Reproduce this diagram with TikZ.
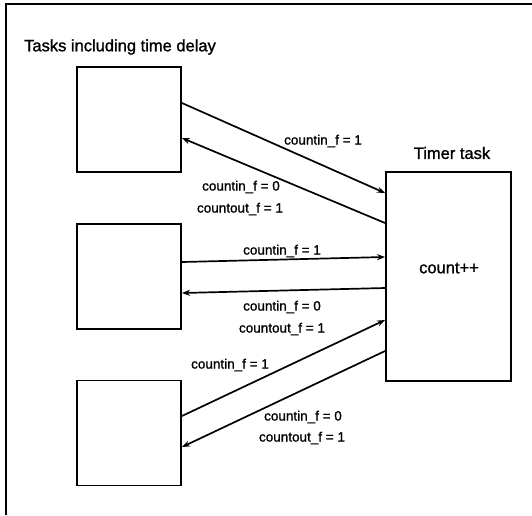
\documentclass[tikz,border=0pt]{standalone}
\usepackage{fontspec}
\setmainfont[FakeBold=1.2,AutoFakeBold=1.2]{Liberation Sans}
\usetikzlibrary{arrows.meta}
\begin{document}
\begin{tikzpicture}[x=1pt,y=-1pt,
  taskbox/.style={draw,line width=1.9pt,minimum width=104pt,minimum height=105pt,inner sep=0pt},
  flow/.style={line width=1.7pt,-{Stealth[length=8pt,width=6pt]}},
  lbl/.style={font=\fontsize{13.5}{15}\selectfont\bfseries,inner sep=0pt},
  head/.style={font=\fontsize{16.5}{18}\selectfont\bfseries,inner sep=0pt}]
\useasboundingbox (0,0) rectangle (532,515);
% frame
\draw[line width=1.6pt] (6,515) -- (6,4) -- (532,4);
% heading
\node[head,anchor=west] (title) at (24,47) {Tasks including time delay};
% task boxes
\node[taskbox] (b1) at (129,119.5) {};
\node[taskbox] (b2) at (129,276.5) {};
\node[taskbox] (b3) at (129,433) {};
% timer task
\node[draw,line width=1.9pt,minimum width=125pt,minimum height=209pt,inner sep=0pt] (tm) at (448.5,276.5) {};
\node[head] (ttl) at (452,153) {Timer task};
\node[head] (cnt) at (449,268) {count++};
% connectors
\draw[flow] ([yshift=16.5pt]b1.east) -- ([yshift=83.5pt]tm.west);
\draw[flow] ([yshift=53.5pt]tm.west) -- ([yshift=-18.5pt]b1.east);
\draw[flow] ([yshift=14.5pt]b2.east) -- ([yshift=19.5pt]tm.west);
\draw[flow] ([yshift=-11.5pt]tm.west) -- ([yshift=-16.5pt]b2.east);
\draw[flow] ([yshift=17pt]b3.east) -- ([yshift=-43.5pt]tm.west);
\draw[flow] ([yshift=-74.5pt]tm.west) -- ([yshift=-14pt]b3.east);
% labels
\node[lbl] (l1) at (323,141) {countin\_f = 1};
\node[lbl] (l2a) at (241,187) {countin\_f = 0};
\node[lbl] (l2b) at (240,209) {countout\_f = 1};
\node[lbl] (l3) at (282,251) {countin\_f = 1};
\node[lbl] (l4a) at (282,307) {countin\_f = 0};
\node[lbl] (l4b) at (282,329) {countout\_f = 1};
\node[lbl] (l5) at (230,365) {countin\_f = 1};
\node[lbl] (l6a) at (303,417) {countin\_f = 0};
\node[lbl] (l6b) at (302,438) {countout\_f = 1};
\end{tikzpicture}
\end{document}
